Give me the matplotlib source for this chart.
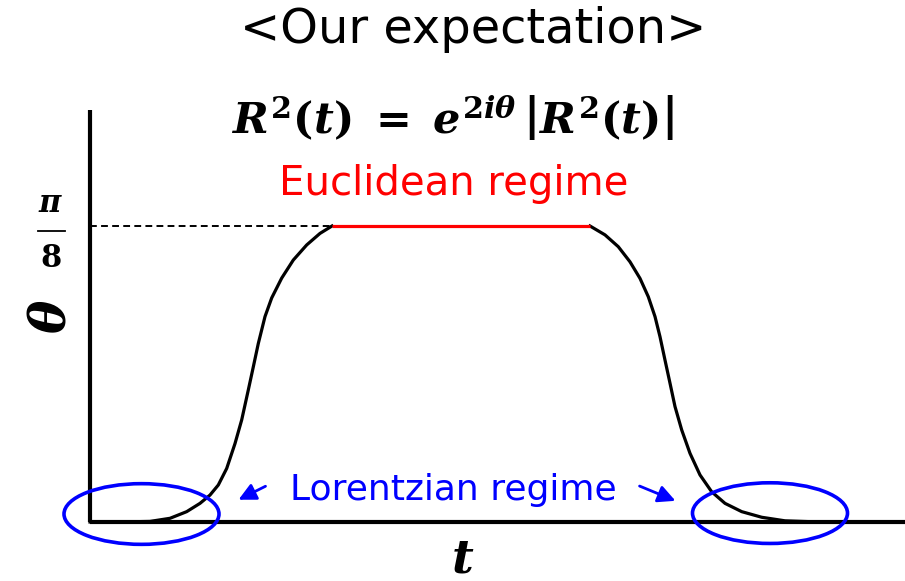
import matplotlib
matplotlib.use("Agg")
import matplotlib.pyplot as plt
from matplotlib.lines import Line2D
from matplotlib.patches import Ellipse

plt.rcParams['mathtext.fontset'] = 'custom'
plt.rcParams['mathtext.rm'] = 'DejaVu Serif:bold'
plt.rcParams['mathtext.it'] = 'DejaVu Serif:bold:italic'
plt.rcParams['mathtext.bf'] = 'DejaVu Serif:bold'

# curve: t (arbitrary units), theta in units of pi/8
t_rise = [0.0, 0.30, 0.60, 0.80, 0.967, 1.10, 1.20, 1.283, 1.367, 1.45, 1.517, 1.583,
          1.633, 1.683, 1.75, 1.817, 1.917, 2.033, 2.167, 2.30, 2.42]
theta_rise = [0.0, 0.0, 0.002, 0.0125, 0.035, 0.063, 0.091, 0.125, 0.181, 0.265, 0.345, 0.446,
              0.524, 0.603, 0.694, 0.757, 0.824, 0.885, 0.936, 0.975, 1.0]
t_plateau = [2.42, 5.00]
theta_plateau = [1.0, 1.0]
t_fall = [5.00, 5.15, 5.283, 5.40, 5.50, 5.583, 5.65, 5.70, 5.75, 5.80, 5.85, 5.917,
          6.00, 6.10, 6.217, 6.35, 6.517, 6.717, 6.95, 7.30, 7.60]
theta_fall = [1.0, 0.970, 0.930, 0.879, 0.823, 0.761, 0.694, 0.626, 0.547, 0.469, 0.390, 0.311,
              0.232, 0.159, 0.102, 0.063, 0.035, 0.016, 0.004, 0.0, 0.0]

W, H = 905, 581
fig = plt.figure(figsize=(W / 100, H / 100), dpi=100)
ax = fig.add_axes([90 / W, (H - 522) / H, (W - 90) / W, (522 - 110) / H])
ax.set_xlim(0, 8.15)
ax.set_ylim(0, 412 / 296)
for s in ['top', 'right']:
    ax.spines[s].set_visible(False)
for s in ['left', 'bottom']:
    ax.spines[s].set_linewidth(3)
    ax.spines[s].set_capstyle('butt')
ax.set_xticks([])
ax.set_yticks([])

ax.plot(t_rise, theta_rise, color='black', lw=2.3, solid_joinstyle='round', clip_on=False)
ax.plot(t_fall, theta_fall, color='black', lw=2.3, solid_joinstyle='round', clip_on=False)
ax.plot(t_plateau, theta_plateau, color='red', lw=2.3, solid_capstyle='butt', zorder=3)
ax.plot([0, t_plateau[0]], [1, 1], color='black', lw=1.4, dashes=(3.5, 2.2))

# Lorentzian regime markers
blue = '#0000ff'
for cx, cy in [(0.515, 0.027), (6.80, 0.030)]:
    ax.add_patch(Ellipse((cx, cy), 1.55, 0.205, fill=False, edgecolor=blue,
                         lw=2.6, clip_on=False, zorder=5))
ax.annotate('', xy=(1.46, 0.071), xytext=(1.78, 0.125),
            arrowprops=dict(arrowstyle='-|>', color=blue, lw=2, mutation_scale=26))
ax.annotate('', xy=(5.88, 0.068), xytext=(5.47, 0.125),
            arrowprops=dict(arrowstyle='-|>', color=blue, lw=2, mutation_scale=26))

fig.text(473 / W, 1 - 43 / H, '<Our expectation>', ha='center', va='baseline',
         fontsize=34.5, family='DejaVu Sans')
fig.text(452 / W, 1 - 134 / H, r'$R^2(t)\;=\;e^{2i\theta}\,\left|R^2(t)\right|$',
         ha='center', va='baseline', fontsize=31)
fig.text(454 / W, 1 - 195 / H, 'Euclidean regime', ha='center', va='baseline',
         fontsize=29, color='red', family='DejaVu Sans')
fig.text(453 / W, 1 - 500 / H, 'Lorentzian regime', ha='center', va='baseline',
         fontsize=26, color=blue, family='DejaVu Sans')

# y label and pi/8 tick label
fig.text(51 / W, 1 - 316 / H, r'$\theta$', ha='center', va='center', rotation=90, fontsize=36)
fig.text(51 / W, 1 - 212 / H, r'$\pi$', ha='center', va='baseline', fontsize=22)
fig.text(51 / W, 1 - 267 / H, r'$\mathrm{8}$', ha='center', va='baseline', fontsize=22)
fig.add_artist(Line2D([38 / W, 65 / W], [1 - 231 / H, 1 - 231 / H], color='black', lw=1.3))
fig.text(463 / W, 1 - 560 / H, r'$t$', ha='center', va='center', fontsize=34)

fig.savefig('out.png', dpi=100)
